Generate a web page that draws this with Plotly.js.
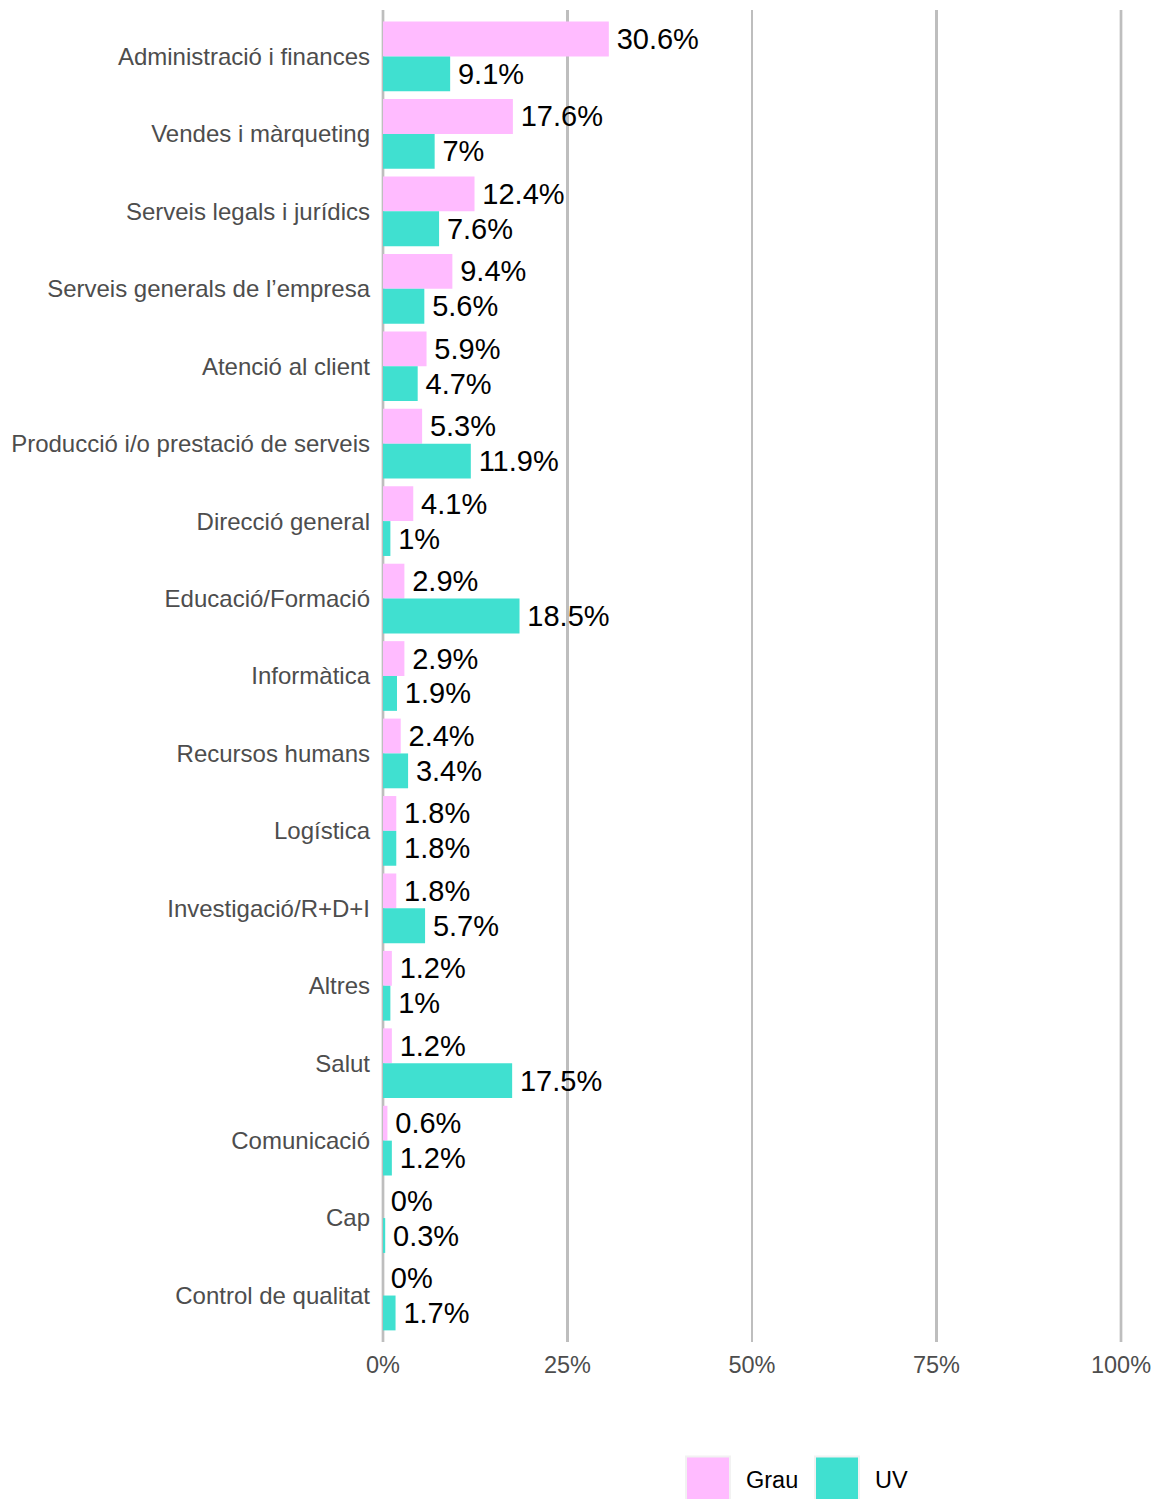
<!DOCTYPE html>
<html>
<head>
<meta charset="utf-8">
<script src="https://cdn.plot.ly/plotly-3.0.1.min.js"></script>
<style>html,body{margin:0;padding:0;background:#fff;}#chart{width:1160px;height:1499px;}</style>
</head>
<body>
<div id="chart"></div>
<script>
const categories = [
  "Administració i finances",
  "Vendes i màrqueting",
  "Serveis legals i jurídics",
  "Serveis generals de l’empresa",
  "Atenció al client",
  "Producció i/o prestació de serveis",
  "Direcció general",
  "Educació/Formació",
  "Informàtica",
  "Recursos humans",
  "Logística",
  "Investigació/R+D+I",
  "Altres",
  "Salut",
  "Comunicació",
  "Cap",
  "Control de qualitat"
];
const grauValues = [30.6, 17.6, 12.4, 9.4, 5.9, 5.3, 4.1, 2.9, 2.9, 2.4, 1.8, 1.8, 1.2, 1.2, 0.6, 0, 0];
const uvValues   = [9.1, 7, 7.6, 5.6, 4.7, 11.9, 1, 18.5, 1.9, 3.4, 1.8, 5.7, 1, 17.5, 1.2, 0.3, 1.7];
const seriesNames = ["Grau", "UV"];
const seriesColors = ["#FFBBFF", "#40E0D0"];
const xTickVals = [0, 25, 50, 75, 100];
const xTickText = ["0%", "25%", "50%", "75%", "100%"];

const FONT = "Liberation Sans, Arial, sans-serif";
const W = 1160, H = 1499;
const M = {l: 383, r: 39, t: 9.5, b: 156.5};

function mkTrace(name, vals, color) {
  return {
    type: "bar", orientation: "h", name: name,
    x: vals, y: categories,
    marker: {color: color, line: {width: 0}},
    text: vals.map(v => "\u2006" + String(v) + "%"),
    textposition: "outside",
    textfont: {family: FONT, size: 29, color: "#000000"},
    constraintext: "none",
    cliponaxis: false,
    hoverinfo: "skip"
  };
}

const data = [
  mkTrace(seriesNames[0], grauValues, seriesColors[0]),
  mkTrace(seriesNames[1], uvValues, seriesColors[1])
];

const plotW = W - M.l - M.r, plotH = H - M.t - M.b;
const px2x = px => (px - M.l) / plotW;
const px2y = py => (H - M.b - py) / plotH;
const keyLeft = [686, 815];
const shapes = [];
const annotations = [];

// grid lines at the two range ends (Plotly omits edge grid lines)
[0, 1].forEach(v => shapes.push({type: "line", xref: "paper", yref: "paper",
  x0: v, x1: v, y0: 0, y1: 1, line: {color: "#bebebe", width: 2.7}, layer: "below"}));

seriesNames.forEach((n, i) => {
  shapes.push({type: "rect", xref: "paper", yref: "paper",
    x0: px2x(keyLeft[i]), x1: px2x(keyLeft[i] + 44),
    y0: px2y(1501), y1: px2y(1457),
    fillcolor: seriesColors[i], line: {color: "#f2f2f2", width: 2}, layer: "above"});
  annotations.push({xref: "paper", yref: "paper",
    x: px2x(keyLeft[i] + 58), y: px2y(1481),
    xanchor: "left", yanchor: "middle", showarrow: false,
    text: n, font: {family: FONT, size: 23.5, color: "#000000"}});
});

const layout = {
  width: W, height: H,
  margin: M,
  paper_bgcolor: "#ffffff", plot_bgcolor: "#ffffff",
  barmode: "group", bargap: 0.1, bargroupgap: 0,
  showlegend: false,
  font: {family: FONT},
  xaxis: {
    range: [0, 100], autorange: false, fixedrange: true,
    tickvals: xTickVals, ticktext: xTickText,
    showgrid: true, gridcolor: "#bebebe", gridwidth: 2.7,
    zeroline: false, showline: false, ticks: "",
    ticklabelstandoff: 6,
    tickfont: {family: FONT, size: 23.5, color: "#4d4d4d"}
  },
  yaxis: {
    type: "category", categoryorder: "array", categoryarray: categories,
    range: [categories.length - 0.4, -0.6], autorange: false, fixedrange: true,
    showgrid: false, zeroline: false, showline: false, ticks: "",
    ticklabelstandoff: 12,
    tickfont: {family: FONT, size: 24, color: "#4d4d4d"}
  },
  shapes: shapes,
  annotations: annotations
};

Plotly.newPlot("chart", data, layout, {displayModeBar: false, staticPlot: true});
</script>
</body>
</html>
